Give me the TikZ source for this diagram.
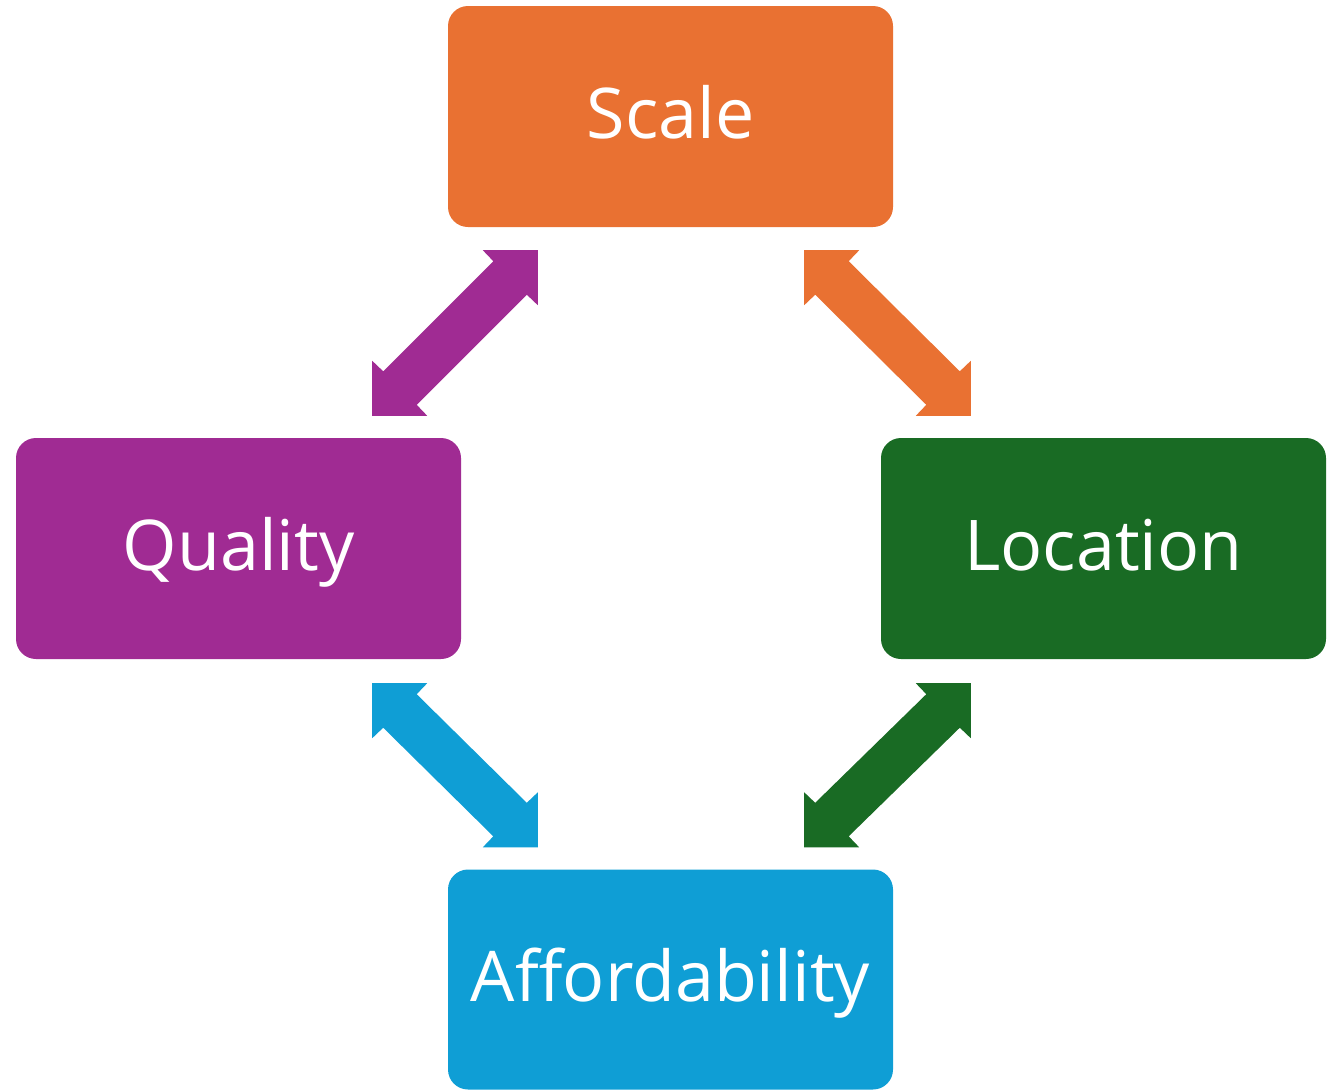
\documentclass[tikz,border=0pt]{standalone}
\usepackage{fontspec}
\setmainfont{Open Sans}
\usetikzlibrary{calc}

\definecolor{cOrange}{HTML}{E97132}
\definecolor{cPurple}{HTML}{A02B93}
\definecolor{cGreen}{HTML}{196B24}
\definecolor{cBlue}{HTML}{0F9ED5}

% Double-headed block arrow between tips #2 and #3;
% #4,#5 are the signs of the direction from #2 towards #3.
\newcommand\dblarrow[5]{%
  \fill[#1] (#2)
    -- ($(#2)+(#4*55,0)$)
    -- ($(#2)+(#4*44.5,#5*11)$)
    -- ($(#3)+(-#4*11,-#5*44.5)$)
    -- ($(#3)+(0,-#5*55)$)
    -- (#3)
    -- ($(#3)+(-#4*55,0)$)
    -- ($(#3)+(-#4*44.5,-#5*11)$)
    -- ($(#2)+(#4*11,#5*44.5)$)
    -- ($(#2)+(0,#5*55)$)
    -- cycle;}

\begin{document}
\begin{tikzpicture}[x=1pt,y=-1pt,
  box/.style={rounded corners=20pt, minimum width=445pt, minimum height=221pt,
    inner sep=0pt, text=white, font=\fontsize{70}{80}\selectfont,
    text height=44pt, text depth=0pt}]
  \useasboundingbox (0,0) rectangle (1340,1090);

  \node[box, fill=cOrange] (scale) at (670.5,116.5) {Scale};
  \node[box, fill=cPurple] (quality) at (238.5,548.5) {Quality};
  \node[box, fill=cGreen] (location) at (1103.5,548.5) {Location};
  \node[box, fill=cBlue, minimum height=220pt] (afford) at (670.5,979.5) {Affordability};

  % arrow tips, placed next to the box corners
  \coordinate (sq) at ($(scale.south west)+(90,23)$);
  \coordinate (qs) at ($(quality.north east)+(-89,-22)$);
  \coordinate (sl) at ($(scale.south east)+(-89,23)$);
  \coordinate (ls) at ($(location.north west)+(90,-22)$);
  \coordinate (qa) at ($(quality.south east)+(-89,24)$);
  \coordinate (aq) at ($(afford.north west)+(90,-22)$);
  \coordinate (la) at ($(location.south west)+(90,24)$);
  \coordinate (al) at ($(afford.north east)+(-89,-22)$);

  \dblarrow{cPurple}{sq}{qs}{-1}{1}
  \dblarrow{cOrange}{sl}{ls}{1}{1}
  \dblarrow{cBlue}{qa}{aq}{1}{1}
  \dblarrow{cGreen}{la}{al}{-1}{1}
\end{tikzpicture}
\end{document}
